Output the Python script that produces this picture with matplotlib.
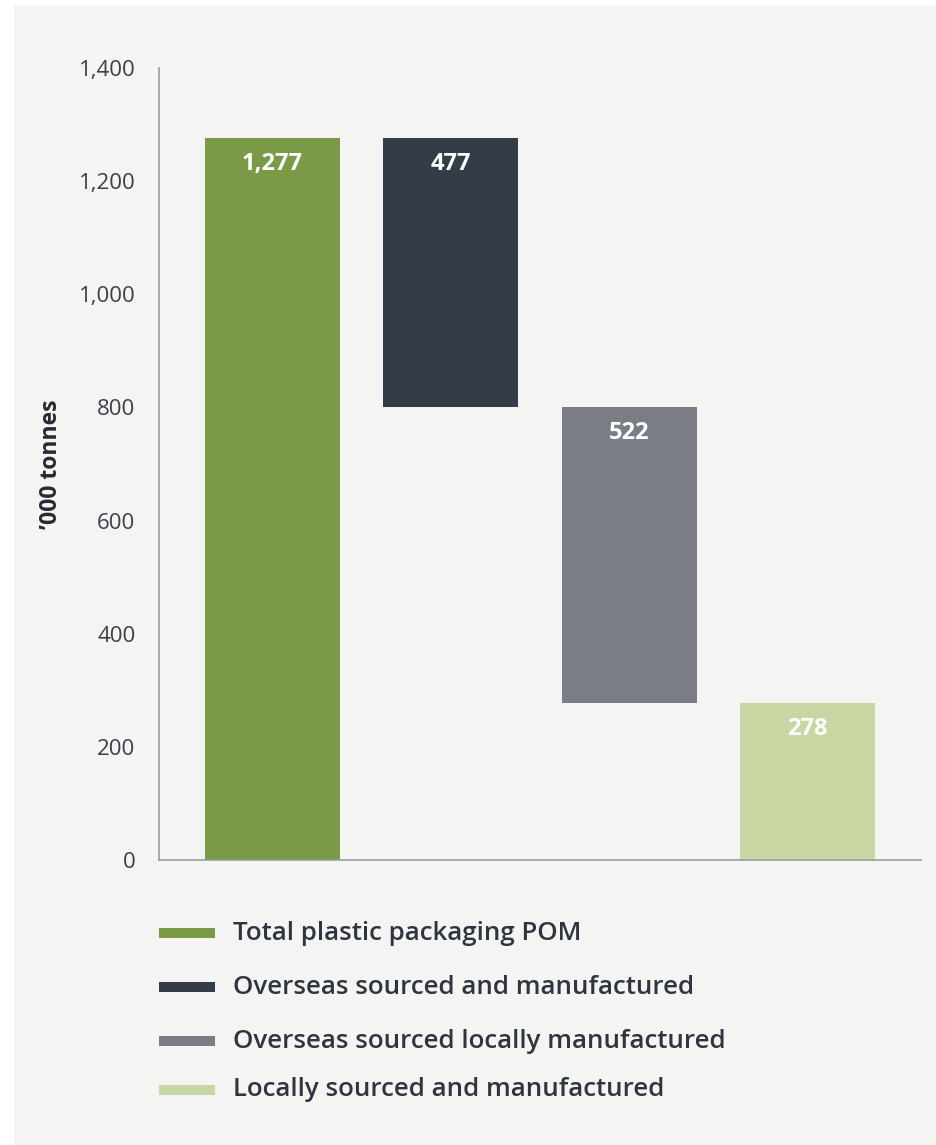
import matplotlib.pyplot as plt
from matplotlib.patches import Rectangle

# plastic packaging flows, '000 tonnes
categories = ['Total plastic packaging POM',
              'Overseas sourced and manufactured',
              'Overseas sourced locally manufactured',
              'Locally sourced and manufactured']
values = [1277, 477, 522, 278]
colors = ['#7a9a48', '#333c47', '#7b7d86', '#c8d6a4']

# waterfall: total first, then each component hangs down from the running level
bottoms = []
level = values[0]
for i, v in enumerate(values):
    if i == 0:
        bottoms.append(0)
    else:
        level = level - v
        bottoms.append(level)

bg = '#f4f4f3'
txt = '#3a3f4a'
plt.rcParams['font.family'] = ['Open Sans', 'DejaVu Sans']

fig = plt.figure(figsize=(9.37, 11.45), dpi=100)
fig.patch.set_facecolor('white')
fig.patches.append(Rectangle((14 / 937, 0), 1, 1 - 5 / 1145, transform=fig.transFigure,
                             facecolor=bg, edgecolor='none', zorder=-10))

ax = fig.add_axes([159 / 937, 1 - 860 / 1145, (921 - 159) / 937, (860 - 68) / 1145])
ax.set_facecolor(bg)
x = list(range(len(values)))
ax.bar(x, values, bottom=bottoms, width=0.756, color=colors, zorder=2)

for i, v in enumerate(values):
    top = bottoms[i] + v
    ax.text(i, top - 46, f'{v:,}', ha='center', va='center', color='white',
            fontsize=17, fontweight='bold')

ax.set_xlim(-0.636, 3.636)
ax.set_ylim(0, 1400)
ax.set_yticks(range(0, 1401, 200))
ax.set_yticklabels([f'{t:,}' for t in range(0, 1401, 200)])
ax.set_xticks([])
ax.tick_params(axis='y', length=0, pad=17, labelsize=16, labelcolor=txt)
for s in ['top', 'right']:
    ax.spines[s].set_visible(False)
for s in ['left', 'bottom']:
    ax.spines[s].set_color('#9b9ca3')
    ax.spines[s].set_linewidth(1.2)
ax.set_ylabel('\u2019000 tonnes', fontsize=16.5, fontweight='bold', color='#262a33', labelpad=11)

# legend drawn as swatches with labels underneath the axes
leg_y = [933, 987, 1041, 1090]
for c, lab, yp in zip(colors, categories, leg_y):
    fig.patches.append(Rectangle((159 / 937, 1 - (yp + 5) / 1145), 56 / 937, 10 / 1145,
                                 transform=fig.transFigure, facecolor=c, edgecolor='none'))
    fig.text(233 / 937, 1 - yp / 1145, lab, ha='left', va='center', fontsize=18.6,
             fontweight='semibold', color='#2f3540')

fig.savefig('out.png', dpi=100, facecolor=fig.get_facecolor())
